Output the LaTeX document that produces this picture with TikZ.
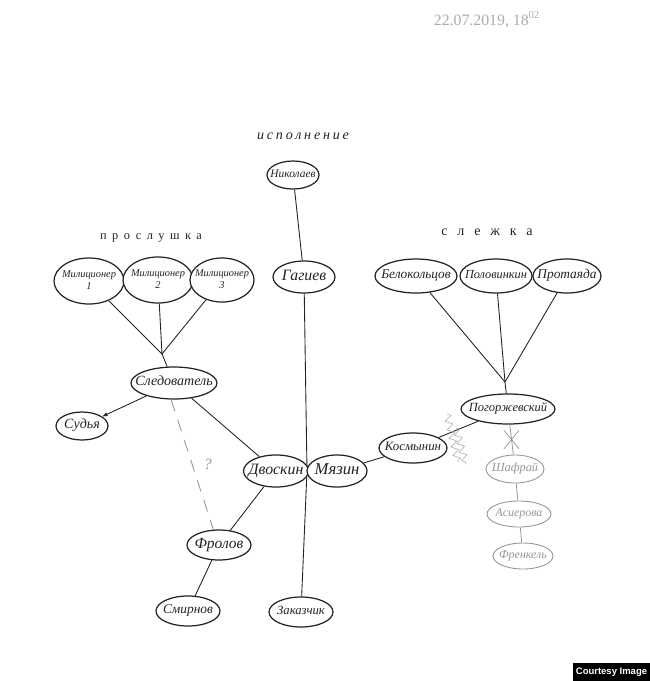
\documentclass[tikz,border=0pt]{standalone}
\usepackage{fontspec}
\setmainfont{Liberation Serif}
\newfontfamily\capfont{Liberation Sans}
\usetikzlibrary{arrows.meta,shapes.geometric,shapes.misc,backgrounds,decorations.pathmorphing}
\definecolor{Pencil}{RGB}{35,35,35}
\definecolor{Faded}{RGB}{150,150,150}
\newcommand{\fsz}[1]{\fontsize{#1}{#1}\selectfont}
% text that may fill its oval without widening it
\newcommand{\ovt}[1]{\makebox[0pt]{\begin{tabular}{@{}c@{}}#1\end{tabular}}}

\begin{document}
\begin{tikzpicture}[x=0.02cm, y=-0.02cm, >=Latex,
  ov/.style={ellipse, draw=Pencil, line width=0.7pt, fill=white, inner sep=0pt, text=Pencil, font=\itshape\fsz{#1}},
  ov/.default=8,
  faded/.style={ov=#1, draw=Faded, text=Faded, line width=0.5pt},
  faded/.default=6.8,
  ln/.style={draw=Pencil, line width=0.5pt},
  fln/.style={draw=Faded, line width=0.45pt},
  tag/.style={text=Pencil, font=\itshape\fsz{#1}},
  squig/.style={draw=Faded!70, line width=0.4pt, decorate, decoration={zigzag, segment length=5pt, amplitude=2pt}}]
  \useasboundingbox (0,0) rectangle (650,681);

  % headings
  \node[text=Faded!80, font=\fsz{9}] (date) at (487,20) {22.07.2019, 18\textsuperscript{02}};
  \node[tag=8, font=\itshape\fsz{8}\addfontfeatures{LetterSpace=20}] (hexec) at (303,136) {исполнение};
  \node[tag=7, font=\fsz{7}\addfontfeatures{LetterSpace=45}] (hwire) at (151,238) {прослушка};
  \node[tag=8, font=\fsz{8}\addfontfeatures{LetterSpace=70}] (htail) at (487,232) {слежка};

  % executors
  \node[ov=6.5, minimum width=1.04cm, minimum height=0.56cm] (nik) at (293,175) {\ovt{Николаев}};
  \node[ov=9, minimum width=1.24cm, minimum height=0.64cm] (gag) at (304,277) {\ovt{Гагиев}};

  % wiretap
  \node[ov=5.9, minimum width=1.4cm, minimum height=0.92cm] (m1) at (89,281) {\ovt{Милиционер\\[1pt]1}};
  \node[ov=5.9, minimum width=1.4cm, minimum height=0.92cm] (m2) at (158,280) {\ovt{Милиционер\\[1pt]2}};
  \node[ov=5.9, minimum width=1.28cm, minimum height=0.88cm] (m3) at (222,280) {\ovt{Милиционер\\[1pt]3}};
  \coordinate (jm) at (162,354);
  \node[ov=8, minimum width=1.72cm, minimum height=0.64cm] (sled) at (174,383) {\ovt{Следователь}};
  \node[ov=8, minimum width=1.04cm, minimum height=0.56cm] (sud) at (82,426) {\ovt{Судья}};

  % centre
  \node[ov=9, minimum width=1.3cm, minimum height=0.64cm] (dvo) at (276,471) {\ovt{Двоскин}};
  \node[ov=9.5, minimum width=1.2cm, minimum height=0.64cm] (mya) at (337,471) {\ovt{Мязин}};
  \coordinate (jd) at (307,471);
  \node[ov=8.8, minimum width=1.28cm, minimum height=0.6cm] (fro) at (219,545) {\ovt{Фролов}};
  \node[ov=7.6, minimum width=1.28cm, minimum height=0.6cm] (smi) at (188,611) {\ovt{Смирнов}};
  \node[ov=7.2, minimum width=1.28cm, minimum height=0.6cm] (zak) at (301,612) {\ovt{Заказчик}};

  % surveillance
  \node[ov=7.6, minimum width=1.64cm, minimum height=0.68cm] (bel) at (416,276) {\ovt{Белокольцов}};
  \node[ov=7, minimum width=1.44cm, minimum height=0.68cm] (pol) at (496,276) {\ovt{Половинкин}};
  \node[ov=7.6, minimum width=1.36cm, minimum height=0.68cm] (pro) at (567,276) {\ovt{Протаяда}};
  \coordinate (js) at (505,382);
  \node[ov=7.1, minimum width=1.88cm, minimum height=0.6cm] (pog) at (508,409) {\ovt{Погоржевский}};
  \node[ov=7.3, minimum width=1.36cm, minimum height=0.6cm] (kos) at (413,448) {\ovt{Космынин}};

  % faded chain
  \node[faded=7, minimum width=1.16cm, minimum height=0.56cm] (shaf) at (515,469) {\ovt{Шафрай}};
  \node[faded, minimum width=1.28cm, minimum height=0.52cm] (asi) at (519,514) {\ovt{Асиерова}};
  \node[faded, minimum width=1.2cm, minimum height=0.52cm] (fre) at (523,556) {\ovt{Френкель}};

  % links
  \begin{pgfonlayer}{background}
    \draw[ln] (gag) -- (jd) -- (zak);
  \end{pgfonlayer}
  \draw[ln] (nik) -- (gag);
  \draw[ln] (m1) -- (jm);
  \draw[ln] (m2) -- (jm);
  \draw[ln] (m3) -- (jm);
  \draw[ln] (jm) -- (sled);
  \draw[ln, ->, >={Latex[length=3pt, width=2.5pt]}] (sled) -- (sud);
  \draw[ln] (sled) -- (dvo);
  \draw[ln, draw=Faded, dash pattern=on 7pt off 5pt] (sled.260) -- (fro.110) node[midway, right=3pt, text=Faded, font=\itshape\fsz{9}] {?};
  \draw[ln] (dvo) -- (fro);
  \draw[ln] (fro) -- (smi);
  \draw[ln] (mya) -- (kos);
  \draw[ln] (kos) -- (pog);
  \draw[ln] (bel) -- (js);
  \draw[ln] (pol) -- (js);
  \draw[ln] (pro) -- (js);
  \draw[ln] (js) -- (pog);
  \draw[fln] (pog) -- (shaf) node[midway, cross out, draw=Faded, line width=0.4pt, minimum width=8pt, minimum height=10pt, inner sep=0pt] (cut) {};
  \draw[fln] (shaf) -- (asi);
  \draw[fln] (asi) -- (fre);

  % break marks
  \draw[squig] (447,414) -- (458,462);
  \draw[squig] (456,428) -- (466,464);

  % credit
  \node[fill=black, text=white, font=\capfont\bfseries\fsz{5.4}, minimum width=1.54cm, minimum height=0.36cm, inner sep=0pt] (credit) at (611.5,672) {Courtesy Image};
\end{tikzpicture}
\end{document}
